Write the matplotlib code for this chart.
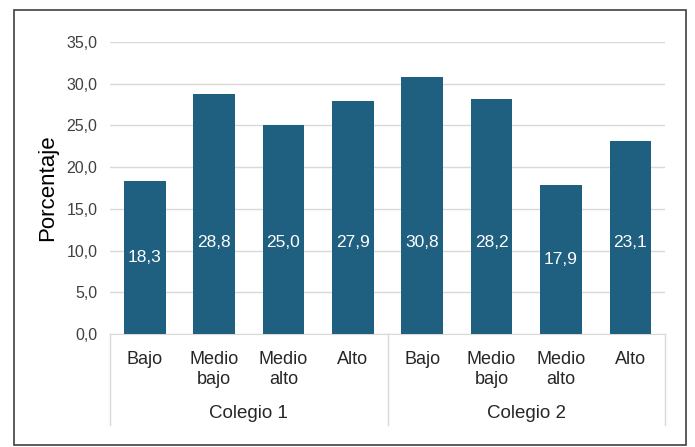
import matplotlib
matplotlib.use("Agg")
import matplotlib.pyplot as plt
from matplotlib.patches import Rectangle
from matplotlib.lines import Line2D

plt.rcParams['font.family'] = ['Liberation Sans', 'DejaVu Sans']

categories = ["Bajo", "Medio\nbajo", "Medio\nalto", "Alto", "Bajo", "Medio\nbajo", "Medio\nalto", "Alto"]
groups = ["Colegio 1", "Colegio 2"]
values = [18.3, 28.8, 25.0, 27.9, 30.8, 28.2, 17.9, 23.1]
value_labels = ["18,3", "28,8", "25,0", "27,9", "30,8", "28,2", "17,9", "23,1"]
yticks = [0, 5, 10, 15, 20, 25, 30, 35]
ytick_labels = ["0,0", "5,0", "10,0", "15,0", "20,0", "25,0", "30,0", "35,0"]

color = "#1f5f80"
W, H = 695, 447
fig = plt.figure(figsize=(W/100, H/100), dpi=100)
fig.patch.set_facecolor("white")
fig.patches.append(Rectangle((14/W, 1-445/H), (686-14)/W, (445-10)/H, transform=fig.transFigure,
                             fill=False, edgecolor="#404040", linewidth=1.2))

left, right, y0, y35 = 110, 665, 334, 42
ax = fig.add_axes([left/W, 1-y0/H, (right-left)/W, (y0-y35)/H])
x = list(range(len(values)))
ax.bar(x, values, width=0.6, color=color, zorder=3)
ax.set_xlim(-0.5, len(values)-0.5)
ax.set_ylim(0, 35)
ax.set_yticks(yticks)
ax.set_yticklabels(ytick_labels, fontsize=11.5, color="#404040")
ax.tick_params(axis='y', length=0, pad=9)
ax.tick_params(axis='x', length=0)
ax.set_xticks(x)
ax.set_xticklabels(categories, fontsize=13, color="#262626", linespacing=1.25)
ax.tick_params(axis='x', pad=12)
for lbl in ax.get_xticklabels():
    lbl.set_verticalalignment('top')
ax.grid(axis='y', color="#d9d9d9", linewidth=1, zorder=0)
for s in ["left", "right", "top"]:
    ax.spines[s].set_visible(False)
ax.spines["bottom"].set_color("#d9d9d9")
ax.set_ylabel("Porcentaje", fontsize=16, color="#000000", labelpad=6)

for xi, v, t in zip(x, values, value_labels):
    ax.text(xi, min(v/2, 11.0), t, ha="center", va="center", color="white", fontsize=12.5, zorder=4)

# group separators and group labels
trans = ax.get_xaxis_transform()
n_per = len(values)//len(groups)
for g in range(len(groups)+1):
    xb = g*n_per - 0.5
    ax.add_line(Line2D([xb, xb], [0, -(425-334)/(y0-y35)], transform=trans, color="#d9d9d9",
                       linewidth=1, clip_on=False))
for g, name in enumerate(groups):
    xc = g*n_per + (n_per-1)/2
    ax.text(xc, -(413-334)/(y0-y35), name, transform=trans, ha="center", va="center",
            fontsize=13.5, color="#262626")

fig.savefig("out.png", dpi=100)
